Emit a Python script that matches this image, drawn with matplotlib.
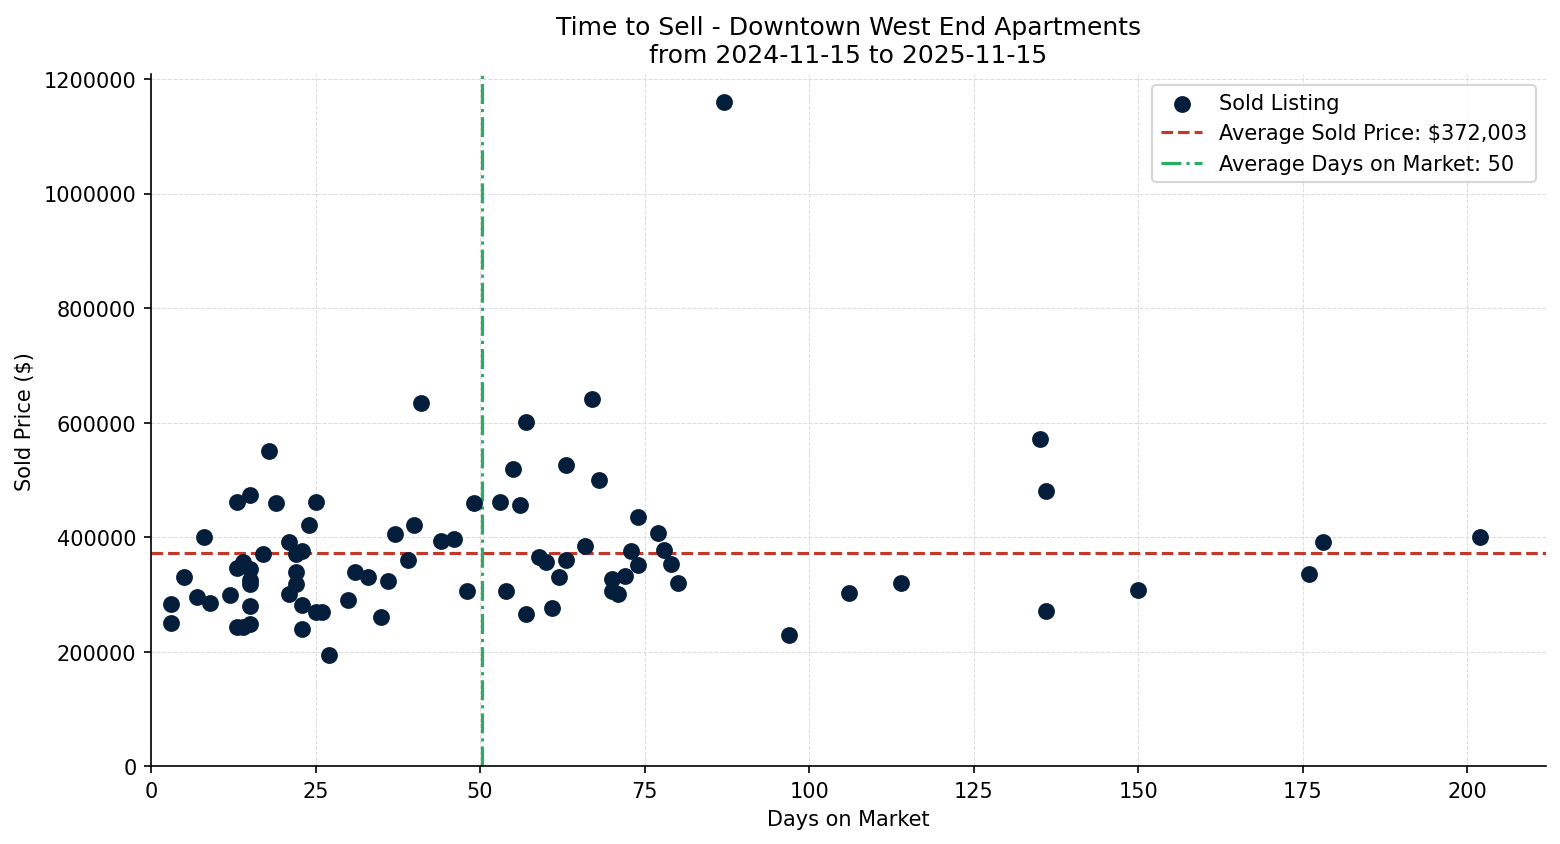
import matplotlib.pyplot as plt

days_on_market = [3, 3, 5, 7, 8, 9, 12, 13, 13, 13, 14, 14, 15, 15, 15, 15, 15, 15,
                  17, 18, 19, 21, 21, 22, 22, 22, 23, 23, 23, 24, 25, 25, 26, 27,
                  30, 31, 33, 35, 36, 37, 39, 40, 41, 44, 46, 48, 49, 53, 54, 55,
                  56, 57, 57, 59, 60, 61, 62, 63, 63, 66, 67, 68, 70, 70, 71, 72,
                  73, 74, 74, 77, 78, 79, 80, 87, 97, 106, 114, 135, 136, 136,
                  150, 176, 178, 202]
sold_price = [283000, 251000, 330000, 295000, 400000, 285000, 299000, 461000, 346000, 243000,
              356000, 243000, 473000, 344000, 326000, 318000, 280000, 248000,
              370000, 550000, 459000, 391000, 300000, 370000, 340000, 318000,
              375000, 281000, 239000, 421000, 461000, 270000, 270000, 194000,
              290000, 339000, 330000, 260000, 323000, 405000, 360000, 421000,
              634000, 393000, 396000, 306000, 459000, 461000, 306000, 519000,
              456000, 601000, 265000, 365000, 356000, 276000, 330000, 526000,
              361000, 385000, 641000, 500000, 327000, 306000, 300000, 332000,
              376000, 435000, 351000, 407000, 377000, 353000, 320000, 1160000,
              230000, 302000, 320000, 571000, 480000, 271000, 307000, 335000,
              391000, 400000]

avg_price = 372003
avg_days = 50.3

fig, ax = plt.subplots(figsize=(10.4, 5.633), dpi=150)

ax.scatter(days_on_market, sold_price, s=50, color='#041e3c', zorder=3,
           label='Sold Listing')

# Average lines
ax.axhline(avg_price, color='#c0392b', linestyle='--', linewidth=1.5,
           label=f'Average Sold Price: ${avg_price:,.0f}')
ax.axvline(avg_days, color='#27ae60', linestyle='-.', linewidth=1.5,
           label=f'Average Days on Market: {avg_days:.0f}')

ax.set_title('Time to Sell - Downtown West End Apartments\nfrom 2024-11-15 to 2025-11-15',
             fontsize=12)
ax.set_xlabel('Days on Market')
ax.set_ylabel('Sold Price ($)')
ax.ticklabel_format(style='plain', axis='y')
ax.set_xlim(left=0)
ax.set_ylim(bottom=0)
ax.grid(True, linestyle='--', linewidth=0.5, color='#dcdcdc')
ax.set_axisbelow(True)
ax.spines['top'].set_visible(False)
ax.spines['right'].set_visible(False)
ax.legend(loc='upper right')

fig.subplots_adjust(left=0.0968, right=0.991, top=0.911, bottom=0.092)
plt.savefig('out.png')
